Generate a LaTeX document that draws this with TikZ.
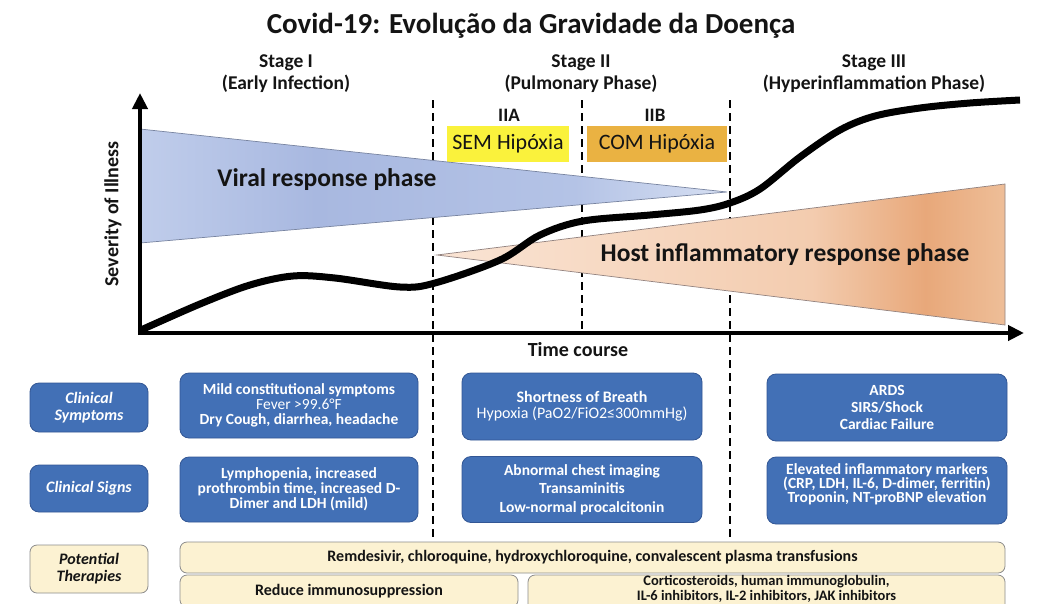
\documentclass[tikz,border=0pt]{standalone}
\usepackage{fontspec}
\setmainfont{Carlito}
\usetikzlibrary{arrows.meta}
\definecolor{boxblue}{RGB}{66,112,182}
\definecolor{boxborder}{RGB}{50,86,148}
\definecolor{cream}{RGB}{252,242,210}
\definecolor{creamborder}{RGB}{140,140,140}
\definecolor{semyellow}{RGB}{250,242,60}
\definecolor{comorange}{RGB}{234,178,66}
\definecolor{vb1}{RGB}{192,205,235}
\definecolor{vb2}{RGB}{168,184,224}
\definecolor{vb3}{RGB}{180,195,230}
\definecolor{vb4}{RGB}{214,223,242}
\definecolor{ob1}{RGB}{250,228,212}
\definecolor{ob2}{RGB}{243,204,175}
\definecolor{ob3}{RGB}{232,168,122}
\definecolor{ob4}{RGB}{238,190,152}
\definecolor{triborder}{RGB}{120,132,160}
\definecolor{darktext}{RGB}{20,20,20}
\pgfdeclarehorizontalshading{viralshade}{100bp}{color(0bp)=(vb1); color(25bp)=(vb1); color(40bp)=(vb2); color(62bp)=(vb3); color(75bp)=(vb4); color(100bp)=(vb4)}
\pgfdeclarehorizontalshading{hostshade}{100bp}{color(0bp)=(ob1); color(25bp)=(ob1); color(58bp)=(ob2); color(68bp)=(ob3); color(75bp)=(ob4); color(100bp)=(ob4)}
\newcommand\setfs[2]{\fontsize{#1}{#2}\selectfont}
\begin{document}
\begin{tikzpicture}[x=1pt,y=-1pt,
  bluebox/.style={draw=boxborder, line width=0.8pt, fill=boxblue, rounded corners=9pt, text=white, align=center, inner sep=0pt},
  creambox/.style={draw=creamborder, line width=0.8pt, fill=cream, rounded corners=7pt, text=darktext, align=center, inner sep=0pt},
  hipbox/.style={inner sep=0pt, minimum height=36pt, text=darktext, font=\setfs{22}{24}},
  stagelbl/.style={align=center, font=\bfseries\setfs{19.5}{22}, text=darktext},
  divider/.style={line width=2.4pt, dash pattern=on 8pt off 5pt, black},
  axis/.style={line width=4.5pt, -{Triangle[length=16pt,width=15pt]}},
  curve/.style={line width=7pt, line cap=butt, line join=round}
]
\useasboundingbox (0,0) rectangle (1038,603);
\clip (0,0) rectangle (1038,603);
\fill[white] (0,0) rectangle (1038,603);

% title
\node[font=\bfseries\setfs{29}{32}, text=darktext] (title) at (531,26) {Covid-19: Evolução da Gravidade da Doença};

% stage labels
\node[stagelbl] (st1) at (286,74) {Stage I\\(Early Infection)};
\node[stagelbl] (st2) at (581,74) {Stage II\\(Pulmonary Phase)};
\node[stagelbl] (st3) at (874,74) {Stage III\\(Hyperinflammation Phase)};
\node[font=\bfseries\setfs{19}{21}, text=darktext] (iia) at (509,115) {IIA};
\node[font=\bfseries\setfs{19}{21}, text=darktext] (iib) at (655,115) {IIB};

% dashed dividers
\coordinate (d1t) at (433,100); \coordinate (d1b) at (433,541);
\coordinate (d2t) at (582,100); \coordinate (d2b) at (582,331);
\coordinate (d3t) at (730,100); \coordinate (d3b) at (730,541);
\draw[divider] (d1t) -- (d1b);
\draw[divider] (d2t) -- (d2b);
\draw[divider] (d3t) -- (d3b);

% hypoxia boxes
\node[hipbox, fill=semyellow, minimum width=122pt] (sem) at (508,143.5) {SEM Hipóxia};
\node[hipbox, fill=comorange, minimum width=140pt] (com) at (657,143.5) {COM Hipóxia};

% phase triangles
\path[draw=triborder, line width=0.7pt, shading=viralshade] (140,129) -- (727,192) -- (140,243) -- cycle;
\path[draw=triborder!80!orange, line width=0.7pt, shading=hostshade] (437,255) -- (1005,184) -- (1005,325) -- cycle;
\node[font=\bfseries\setfs{25.5}{28}, text=darktext] (viral) at (327,180) {Viral response phase};
\node[font=\bfseries\setfs{25.5}{28}, text=darktext] (host) at (785,255) {Host inflammatory response phase};

% axes
\coordinate (yb) at (140,335.2);
\coordinate (ytop) at (140,93);
\coordinate (xl) at (137.8,333);
\coordinate (xend) at (1024,333);
\draw[axis] (yb) -- (ytop);
\draw[axis] (xl) -- (xend);
\node[font=\bfseries\setfs{20}{22}, text=darktext, rotate=90] (ylab) at (113,214) {Severity of Illness};
\node[font=\bfseries\setfs{20}{22}, text=darktext] (xlab) at (578,350) {Time course};

% severity curve
\draw[curve] plot[smooth, tension=0.55] coordinates {(141,330) (200,304) (250,285) (293,276) (335,278) (400,287) (435,283) (500,260) (540,235) (583,221) (650,215) (700,210) (730,203) (760,189) (800,157) (840,130) (875,116) (920,108) (970,103) (1020,100)};

% left row labels
\node[bluebox, minimum width=118pt, minimum height=49pt, font=\bfseries\itshape\setfs{16}{17.5}] (lsym) at (89,407.5) {Clinical\\Symptoms};
\node[bluebox, minimum width=118pt, minimum height=47pt, font=\bfseries\itshape\setfs{16}{18}] (lsig) at (89,488.5) {Clinical Signs};
\node[creambox, minimum width=118pt, minimum height=48pt, font=\bfseries\itshape\setfs{16}{17}] (lther) at (89,569) {Potential\\Therapies};

% stage I
\node[bluebox, minimum width=238pt, minimum height=65pt, font=\setfs{15.5}{15}] (s1sym) at (299,405.5) {\bfseries Mild constitutional symptoms\\Fever >99.6°F\\\bfseries Dry Cough, diarrhea, headache};
\node[bluebox, minimum width=238pt, minimum height=65pt, font=\bfseries\setfs{15.5}{15}] (s1sig) at (299,489.5) {Lymphopenia, increased\\prothrombin time, increased D-\\Dimer and LDH (mild)};
% stage II
\node[bluebox, minimum width=240pt, minimum height=67pt, font=\setfs{16}{15.5}] (s2sym) at (582,406.5) {\bfseries Shortness of Breath\\Hypoxia (PaO2/FiO2≤300mmHg)};
\node[bluebox, minimum width=240pt, minimum height=66pt, font=\bfseries\setfs{15.5}{18.5}] (s2sig) at (582,489.5) {Abnormal chest imaging\\Transaminitis\\Low-normal procalcitonin};
% stage III
\node[bluebox, minimum width=240pt, minimum height=67pt, font=\bfseries\setfs{15.5}{17}] (s3sym) at (887,407.5) {ARDS\\SIRS/Shock\\Cardiac Failure};
\node[bluebox, minimum width=240pt, minimum height=67pt] (s3sig) at (887,490.5) {};
\node[text=white, align=center, inner sep=0pt, font=\bfseries\setfs{15.5}{14}] (s3sigt) at (887,484) {Elevated inflammatory markers\\(CRP, LDH, IL-6, D-dimer, ferritin)\\Troponin, NT-proBNP elevation};

% therapies
\node[creambox, minimum width=825pt, minimum height=31pt, font=\bfseries\setfs{16}{18}] (remd) at (592.5,557.5) {Remdesivir, chloroquine, hydroxychloroquine, convalescent plasma transfusions};
\node[creambox, minimum width=338pt, minimum height=32pt, font=\bfseries\setfs{16}{18}] (reduce) at (349,591) {Reduce immunosuppression};
\node[creambox, minimum width=477pt, minimum height=36pt] (cort) at (766.5,593) {};
\node[text=darktext, align=center, inner sep=0pt, font=\bfseries\setfs{14.5}{15}] (cortt) at (766.5,589) {Corticosteroids, human immunoglobulin,\\IL-6 inhibitors, IL-2 inhibitors, JAK inhibitors};
\end{tikzpicture}
\end{document}
